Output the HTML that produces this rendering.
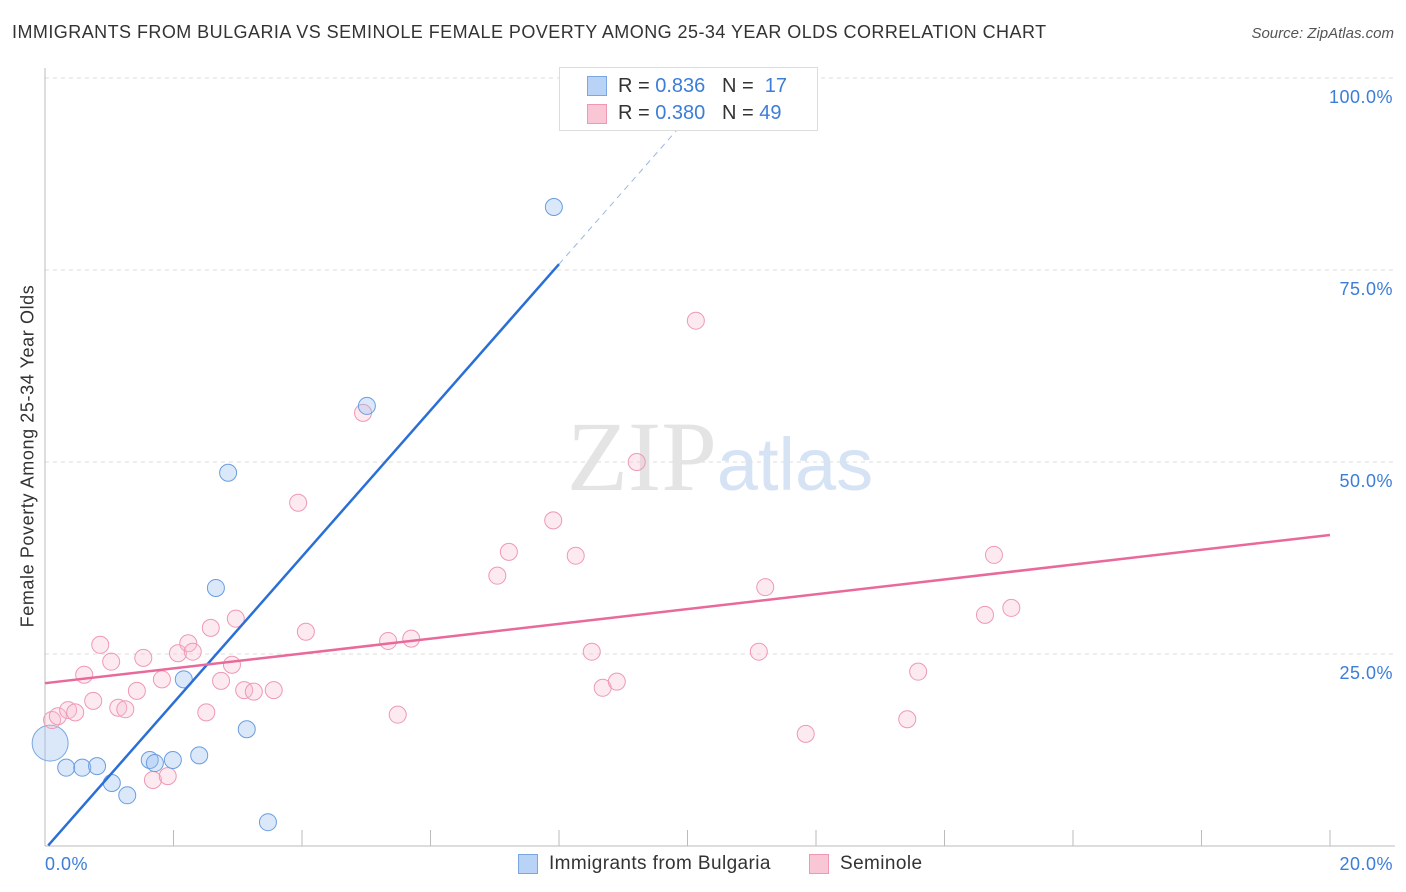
<!DOCTYPE html>
<html><head><meta charset="utf-8"><style>
body{margin:0;background:#fff;font-family:"Liberation Sans",sans-serif;}
#wrap{position:relative;width:1406px;height:892px;overflow:hidden}
.t{position:absolute;white-space:nowrap}
</style></head><body>
<div id="wrap">
<div class="t" style="left:12px;top:22px;font-size:18px;letter-spacing:0.45px;color:#333">IMMIGRANTS FROM BULGARIA VS SEMINOLE FEMALE POVERTY AMONG 25-34 YEAR OLDS CORRELATION CHART</div>
<div class="t" style="right:12px;top:25px;font-size:15px;color:#555;font-style:italic">Source: ZipAtlas.com</div>
<div class="t" style="left:28px;top:456px;font-size:18px;letter-spacing:0.6px;color:#333;transform:translate(-50%,-50%) rotate(-90deg)">Female Poverty Among 25-34 Year Olds</div>
<svg id="svg" width="1406" height="892" style="position:absolute;left:0;top:0"></svg>
<div style="position:absolute;left:559px;top:67px;width:257px;height:62px;border:1px solid #ddd;background:#fff;font-size:20px;color:#333">
 <div style="position:absolute;left:27px;top:8px;width:18px;height:18px;background:#b8d3f5;border:1px solid #7aa7e0"></div>
 <div class="t" style="left:58px;top:7px">R = <span style="color:#3b7dd8">0.836</span>&nbsp;&nbsp;&nbsp;N = &nbsp;<span style="color:#3b7dd8">17</span></div>
 <div style="position:absolute;left:27px;top:36px;width:18px;height:18px;background:#f8c6d4;border:1px solid #ee99b2"></div>
 <div class="t" style="left:58px;top:34px">R = <span style="color:#3b7dd8">0.380</span>&nbsp;&nbsp;&nbsp;N = <span style="color:#3b7dd8">49</span></div>
</div>
<div style="position:absolute;left:0;top:852px;width:1406px;height:26px;font-size:19px;color:#333">
 <div style="position:absolute;left:518px;top:2px;width:18px;height:18px;background:#b8d3f5;border:1px solid #7aa7e0"></div>
 <div class="t" style="left:549px;top:1px;letter-spacing:0.4px">Immigrants from Bulgaria</div>
 <div style="position:absolute;left:809px;top:2px;width:18px;height:18px;background:#f8c6d4;border:1px solid #ee99b2"></div>
 <div class="t" style="left:840px;top:1px;letter-spacing:0.4px">Seminole</div>
</div>
</div>
<script>
const blueX=[0.33,0.58,0.81,1.04,1.28,1.63,1.71,1.99,2.16,2.40,2.66,2.85,3.14,3.47,5.01,7.92];
const blueY=[10.2,10.2,10.4,8.2,6.6,11.2,10.8,11.2,21.7,11.8,33.6,48.6,15.2,3.1,57.3,83.2];
const bigX=[0.08], bigY=[13.4];
const pinkX=[0.11,0.20,0.36,0.47,0.61,0.75,0.86,1.03,1.14,1.25,1.43,1.53,1.68,1.82,1.91,2.07,2.23,2.30,2.51,2.58,2.74,2.91,2.97,3.10,3.25,3.56,3.94,4.06,4.95,5.34,5.49,5.70,7.04,7.22,7.91,8.26,8.51,8.68,8.90,9.21,10.13,11.11,11.21,11.84,13.42,13.59,14.63,14.77,15.04];
const pinkY=[16.4,16.9,17.7,17.4,22.3,18.9,26.2,24.0,18.0,17.8,20.2,24.5,8.6,21.7,9.1,25.1,26.4,25.3,17.4,28.4,21.5,23.6,29.6,20.3,20.1,20.3,44.7,27.9,56.4,26.7,17.1,27.0,35.2,38.3,42.4,37.8,25.3,20.6,21.4,50.0,68.4,25.3,33.7,14.6,16.5,22.7,30.1,37.9,31.0];
const yTicks=[25,50,75,100];
const yTickLabels=["25.0%","50.0%","75.0%","100.0%"];
const blueLine={intercept:-0.4,slope:9.52,solidEnd:8.0,dashEnd:10.4};
const pinkLine={intercept:21.2,slope:0.965};
const X=v=>45+v*64.25, Y=v=>846-v*7.68;
const s=document.getElementById('svg'),NS='http://www.w3.org/2000/svg';
function mk(t,a,name){const e=document.createElementNS(NS,t);for(const k in a)e.setAttribute(k,a[k]);


s.appendChild(e);return e;}
yTicks.forEach((v,i)=>{mk('line',{x1:45,x2:1395,y1:Y(v),y2:Y(v),stroke:'#ddd','stroke-dasharray':'4,4'},'gridline');
const t=mk('text',{x:1393,y:Y(v)+25,'text-anchor':'end','font-size':18,'letter-spacing':0.5,fill:'#3b7dd8','font-family':'Liberation Sans'},'y-tick-label');t.textContent=yTickLabels[i];});
mk('line',{x1:45,x2:45,y1:68,y2:846,stroke:'#bbb'},'y-axis');
mk('line',{x1:45,x2:1395,y1:846,y2:846,stroke:'#bbb'},'x-axis');
for(let i=1;i<=10;i++)mk('line',{x1:X(i*2),x2:X(i*2),y1:830,y2:846,stroke:'#bbb'},'x-tick');
[['0.0%',45,'start'],['20.0%',1393,'end']].forEach(a=>{const t=mk('text',{x:a[1],y:870,'text-anchor':a[2],'font-size':18,'letter-spacing':0.5,fill:'#3b7dd8','font-family':'Liberation Sans'},'x-tick-label');t.textContent=a[0];});
const w=mk('text',{x:720,y:490,'text-anchor':'middle','font-size':100,'font-family':'Liberation Serif',fill:'#e4e4e4'},'watermark');
w.innerHTML='ZIP<tspan fill="#d6e3f5" font-family="Liberation Sans" font-size="74">atlas</tspan>';
bigX.forEach((x,i)=>mk('circle',{cx:X(x),cy:Y(bigY[i]),r:18,fill:'rgba(150,190,240,0.35)',stroke:'#7aa7e0','stroke-width':1},'point-bulgaria-large'));
pinkX.forEach((x,i)=>mk('circle',{cx:X(x),cy:Y(pinkY[i]),r:8.5,fill:'rgba(248,190,208,0.32)',stroke:'#ee99b2','stroke-width':1},'point-seminole'));
blueX.forEach((x,i)=>mk('circle',{cx:X(x),cy:Y(blueY[i]),r:8.5,fill:'rgba(150,190,240,0.35)',stroke:'#6a9de0','stroke-width':1},'point-bulgaria'));
const bl=x=>blueLine.intercept+blueLine.slope*x;
mk('line',{x1:X(0.05),y1:Y(bl(0.05)),x2:X(blueLine.solidEnd),y2:Y(bl(blueLine.solidEnd)),stroke:'#2a6fd6','stroke-width':2.5},'trend-line-bulgaria');
mk('line',{x1:X(blueLine.solidEnd),y1:Y(bl(blueLine.solidEnd)),x2:X(blueLine.dashEnd),y2:Y(bl(blueLine.dashEnd)),stroke:'#9bb8e0','stroke-width':1,'stroke-dasharray':'6,5'},'trend-line-bulgaria-extension');
const pl=x=>pinkLine.intercept+pinkLine.slope*x;
mk('line',{x1:X(0),y1:Y(pl(0)),x2:X(20),y2:Y(pl(20)),stroke:'#e8699a','stroke-width':2.5},'trend-line-seminole');
</script>
</body></html>
